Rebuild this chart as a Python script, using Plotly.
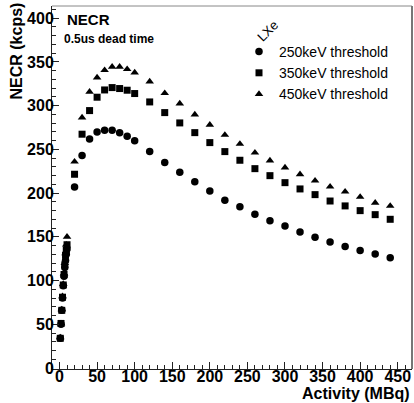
import plotly.graph_objects as go

# Activity (MBq)
activity = [1, 2, 3, 4, 5, 6, 7, 8, 9, 10,
            20, 30, 40, 50, 60, 70, 80, 90, 100,
            120, 140, 160, 180, 200, 220, 240, 260, 280, 300,
            320, 340, 360, 380, 400, 420, 440]

# NECR (kcps)
necr_250 = [34, 50, 66, 80, 94, 105, 115, 123, 130, 136,
            207, 243, 262, 270, 272, 272, 269, 265, 260,
            247.5, 235, 224, 213, 202.5, 192, 184.5, 176, 168.5, 162.5,
            155.5, 149.5, 144, 139, 134.5, 130.5, 126]
necr_350 = [34, 51, 66, 81, 95, 107, 118, 129, 135, 141,
            221.6, 267.4, 294.4, 309.7, 318, 320.7, 319.6, 317.7, 313.9,
            304.3, 292.1, 280.3, 269.2, 257.8, 247.5, 237.6, 228, 220, 212,
            204.8, 198.3, 191, 185.4, 180, 175.4, 170.1]
necr_450 = [35, 51, 67, 82, 96, 108, 120, 131, 141, 150,
            236, 286.4, 315.8, 332.2, 340.6, 344.4, 344.4, 341.7, 337.9,
            327.6, 314.3, 302.4, 289.8, 278.2, 266.6, 256.3, 246.3, 237.2, 229.2,
            221.6, 214.3, 207.4, 201.7, 195.7, 189, 185.4]

series_names = ["250keV threshold", "350keV threshold", "450keV threshold"]
x_ticks = [0, 50, 100, 150, 200, 250, 300, 350, 400, 450]
y_ticks = [0, 50, 100, 150, 200, 250, 300, 350, 400]

FONT = "Liberation Sans, Arial, sans-serif"

fig = go.Figure()
for name, vals, sym, sz in zip(series_names, [necr_250, necr_350, necr_450],
                               ["circle", "square", "triangle-up"], [7.5, 7, 7.5]):
    fig.add_trace(go.Scatter(
        x=activity, y=vals, mode="markers", name=name,
        marker=dict(symbol=sym, size=sz, color="black", line=dict(width=0)),
    ))

axis_common = dict(
    showgrid=False, zeroline=False, showline=True, linecolor="#222", linewidth=1,
    ticks="inside", ticklen=7, tickwidth=1, tickcolor="#222",
    tickfont=dict(family=FONT, size=16, color="black", weight=700),
    minor=dict(ticks="inside", ticklen=4, dtick=10, tickcolor="#222", tickwidth=1),
)

fig.update_layout(
    width=414, height=403,
    margin=dict(l=52, r=2, t=6, b=34),
    paper_bgcolor="white", plot_bgcolor="white",
    showlegend=True,
    legend=dict(
        x=(239 - 52) / 360, y=(369 - 36) / 363, xanchor="left", yanchor="top",
        bgcolor="rgba(0,0,0,0)", borderwidth=0,
        font=dict(family=FONT, size=14, color="black"),
        itemwidth=30,
    ),
    xaxis=dict(range=[-10, 469], tickvals=x_ticks, ticklabelstandoff=-7, **axis_common),
    yaxis=dict(range=[-1.1, 414], tickvals=y_ticks, ticklabelstandoff=-6, **axis_common),
    annotations=[
        dict(text="NECR (kcps)", xref="paper", yref="paper", x=0, y=(369 - 51.5) / 363,
             xshift=-36, xanchor="center", yanchor="middle", textangle=-90, showarrow=False,
             font=dict(family=FONT, size=16, color="black", weight=700)),
        dict(text="Activity (MBq)", xref="paper", yref="paper", x=1, y=0, yshift=-24,
             xanchor="right", yanchor="middle", showarrow=False,
             font=dict(family=FONT, size=16, color="black", weight=700)),
        dict(text="NECR", xref="paper", yref="paper", x=(65 - 52) / 360, y=(369 - 19.5) / 363,
             xanchor="left", yanchor="middle", showarrow=False,
             font=dict(family=FONT, size=15, color="black", weight=700)),
        dict(text="0.5us dead time", xref="paper", yref="paper", x=(62 - 52) / 360,
             y=(369 - 39) / 363, xanchor="left", yanchor="middle", showarrow=False,
             font=dict(family=FONT, size=12, color="black", weight=700)),
        dict(text="LXe", xref="paper", yref="paper", x=(267 - 52) / 360, y=(369 - 31) / 363,
             xanchor="center", yanchor="middle", textangle=-45, showarrow=False,
             font=dict(family=FONT, size=13, color="black")),
    ],
    shapes=[
        dict(type="line", xref="paper", yref="paper", x0=0, x1=1, y0=1, y1=1,
             line=dict(color="#888", width=1)),
        dict(type="line", xref="paper", yref="paper", x0=1, x1=1, y0=0, y1=1,
             line=dict(color="#777", width=2)),
    ],
)

fig.write_html("out.html", config={"displayModeBar": False},
               post_script="document.body.style.margin='0';")
